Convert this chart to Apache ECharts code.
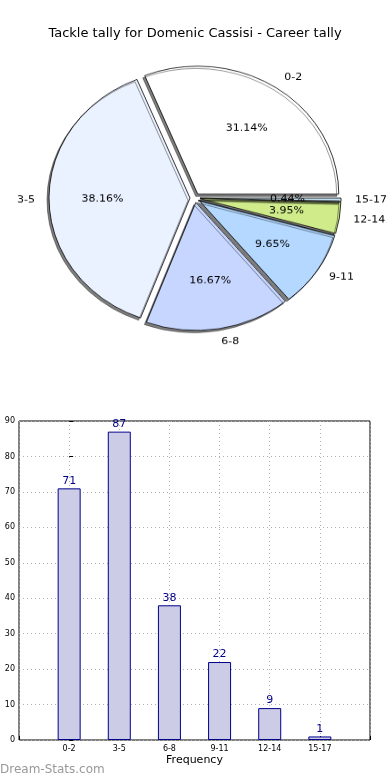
<!DOCTYPE html>
<html>
<head>
<meta charset="utf-8">
<script src="https://cdn.jsdelivr.net/npm/echarts@6/dist/echarts.min.js"></script>
<style>
html,body{margin:0;padding:0;background:#fff;}
#main{position:absolute;left:0;top:0;width:390px;height:780px;}
#pie{position:absolute;left:0;top:0;width:390px;height:440px;transform-origin:0 0;transform:scaleY(0.908);}
</style>
</head>
<body>
<div id="main"></div>
<div id="pie"></div>
<script>
const titleText = 'Tackle tally for Domenic Cassisi - Career tally';
const categories = ['0-2', '3-5', '6-8', '9-11', '12-14', '15-17'];
const tallies = [71, 87, 38, 22, 9, 1];
const sliceColors = ['#ffffff', '#eaf1ff', '#c6d6ff', '#b4d8ff', '#cfeb8a', '#cfeeff'];
const yTicks = [0, 10, 20, 30, 40, 50, 60, 70, 80, 90];
const xAxisName = 'Frequency';
const watermark = 'Dream-Stats.com';

const total = tallies.reduce((a, b) => a + b, 0);
const FONT = 'DejaVu Sans';

// ---------- main chart: title + bar chart ----------
const main = echarts.init(document.getElementById('main'), null, {renderer: 'canvas'});
main.setOption({
  animation: false,
  backgroundColor: '#fff',
  title: {
    text: titleText, left: 'center', top: 22,
    textStyle: {fontFamily: FONT, fontSize: 13, fontWeight: 'normal', color: '#000'}
  },
  graphic: [{
    type: 'text', left: 0, top: 764,
    style: {text: watermark, fontFamily: FONT, fontSize: 12, fontWeight: 'normal', fill: '#999999'}
  }],
  grid: {left: 19, right: 20, top: 421, bottom: 40, show: true, borderColor: '#000', borderWidth: 1, containLabel: false},
  xAxis: {
    type: 'value', min: -1, max: 6, interval: 1,
    name: xAxisName, nameLocation: 'middle', nameGap: 15,
    nameTextStyle: {fontFamily: FONT, fontSize: 11, color: '#000'},
    axisLine: {show: false},
    axisTick: {show: true, inside: true, length: 4, lineStyle: {color: '#000'}},
    axisLabel: {
      fontFamily: FONT, fontSize: 8, color: '#000', margin: 5,
      formatter: v => (v >= 0 && v < categories.length) ? categories[v] : ''
    },
    splitLine: {show: true, lineStyle: {color: '#b0b0b0', type: [1, 3], width: 1}}
  },
  yAxis: {
    type: 'value', min: yTicks[0], max: yTicks[yTicks.length - 1], interval: 10,
    axisLine: {show: false},
    axisTick: {show: true, inside: true, length: 4, lineStyle: {color: '#000'}},
    axisLabel: {fontFamily: FONT, fontSize: 8, color: '#000', margin: 4},
    splitLine: {show: true, lineStyle: {color: '#b0b0b0', type: [1, 3], width: 1}}
  },
  series: [{
    type: 'bar',
    data: tallies.map((v, i) => [i, v]),
    barWidth: 23,
    itemStyle: {color: '#cccce6', borderColor: '#00008b', borderWidth: 1},
    label: {show: true, position: 'top', distance: 2, fontFamily: FONT, fontSize: 11, color: '#00008b',
            formatter: p => String(p.value[1])},
    emphasis: {disabled: true}
  }]
});

// ---------- pie chart (drawn then squeezed to an ellipse) ----------
const pie = echarts.init(document.getElementById('pie'), null, {renderer: 'canvas'});
const R = 141;
const CENTER = [195, 218];
const pieData = categories.map((c, i) => ({
  name: c, value: tallies[i], selected: true,
  itemStyle: {color: sliceColors[i]}
}));
const pieDataLabels = categories.map((c, i) => ({name: c, value: tallies[i], selected: true}));
pie.setOption({
  animation: false,
  series: [{
    type: 'pie',
    center: CENTER, radius: [0, R],
    startAngle: 0, clockwise: false,
    selectedMode: 'multiple', selectedOffset: 5,
    avoidLabelOverlap: false,
    minAngle: 0,
    itemStyle: {borderColor: '#000', borderWidth: 0.8,
      shadowColor: 'rgba(0,0,0,0.5)', shadowBlur: 0.5, shadowOffsetX: -2, shadowOffsetY: 2.5},
    label: {show: true, position: 'outside', formatter: '{b}', fontFamily: FONT, fontSize: 11, color: '#000',
            distanceToLabelLine: 0},
    labelLine: {show: false, length: 14, length2: 0},
    emphasis: {disabled: true},
    select: {itemStyle: {borderColor: '#000', borderWidth: 0.8}},
    data: pieData
  }, {
    type: 'pie',
    center: CENTER, radius: [R * 0.2, R],
    startAngle: 0, clockwise: false,
    selectedMode: 'multiple', selectedOffset: 5,
    avoidLabelOverlap: false,
    silent: true,
    itemStyle: {color: 'rgba(0,0,0,0)', borderWidth: 0},
    label: {show: true, position: 'inner', fontFamily: FONT, fontSize: 11, color: '#000',
            formatter: p => (p.value / total * 100).toFixed(2) + '%'},
    labelLine: {show: false},
    emphasis: {disabled: true},
    select: {itemStyle: {color: 'rgba(0,0,0,0)', borderWidth: 0}},
    data: pieDataLabels
  }]
});
</script>
</body>
</html>
